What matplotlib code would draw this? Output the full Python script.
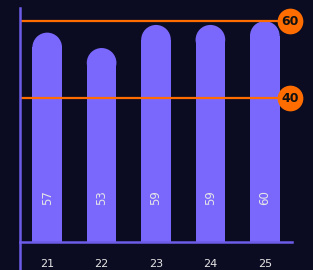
import matplotlib
matplotlib.use("Agg")
import matplotlib.pyplot as plt
import matplotlib.patches as patches
from matplotlib.lines import Line2D

categories = ["21", "22", "23", "24", "25"]
values = [57, 53, 59, 59, 60]
ref_lines = [60, 40]

BG = "#0b0c22"
BAR = "#7a68fc"
AXIS = "#6c5ce7"
ORANGE = "#ff6d00"
TEXT = "#e6e6e6"

W, H = 313, 270
DPI = 100

fig = plt.figure(figsize=(W / DPI, H / DPI), dpi=DPI, facecolor=BG)
ax = fig.add_axes([20 / W, 28 / H, 272 / W, 234 / H])
ax.set_facecolor(BG)

ymin, ymax = 2.6, 63.4
ax.set_xlim(-0.5, len(categories) - 0.5)
ax.set_ylim(ymin, ymax)

# pixel scale to shape the rounded bar tops
px_per_x = 272 / len(categories)
px_per_y = 234 / (ymax - ymin)
bar_w = 0.545
r_x = bar_w / 2
r_y = r_x * px_per_x / px_per_y

for i, v in enumerate(values):
    rect = patches.Rectangle((i - r_x, 0), bar_w, v - r_y, facecolor=BAR,
                             edgecolor="none", zorder=2)
    cap = patches.Ellipse((i, v - r_y), bar_w, 2 * r_y, facecolor=BAR,
                          edgecolor="none", zorder=2)
    ax.add_patch(rect)
    ax.add_patch(cap)
    ax.text(i, 14.2, str(v), rotation=90, ha="center", va="center",
            color=TEXT, fontsize=8.5, zorder=4)

for r in ref_lines:
    ax.axhline(r, color=ORANGE, lw=1.6, zorder=3)
    ax.plot([4.46], [r], marker="o", markersize=17.5, color=ORANGE,
            clip_on=False, zorder=5)
    ax.text(4.46, r, str(r), ha="center", va="center", color="#111111",
            fontsize=9, fontweight="bold", clip_on=False, zorder=6)

ax.set_xticks(range(len(categories)))
ax.set_xticklabels(categories, color=TEXT, fontsize=8)
ax.tick_params(axis="x", length=0, pad=12)
ax.set_yticks([])
for s in ["top", "right", "left"]:
    ax.spines[s].set_visible(False)
ax.spines["bottom"].set_color(AXIS)
ax.spines["bottom"].set_linewidth(1.8)

# left axis line runs past the bottom of the plot
fig.add_artist(Line2D([20 / W, 20 / W], [0, 262 / H], color=AXIS, lw=1.8,
                      transform=fig.transFigure))

fig.savefig("out.png", dpi=DPI, facecolor=BG)
